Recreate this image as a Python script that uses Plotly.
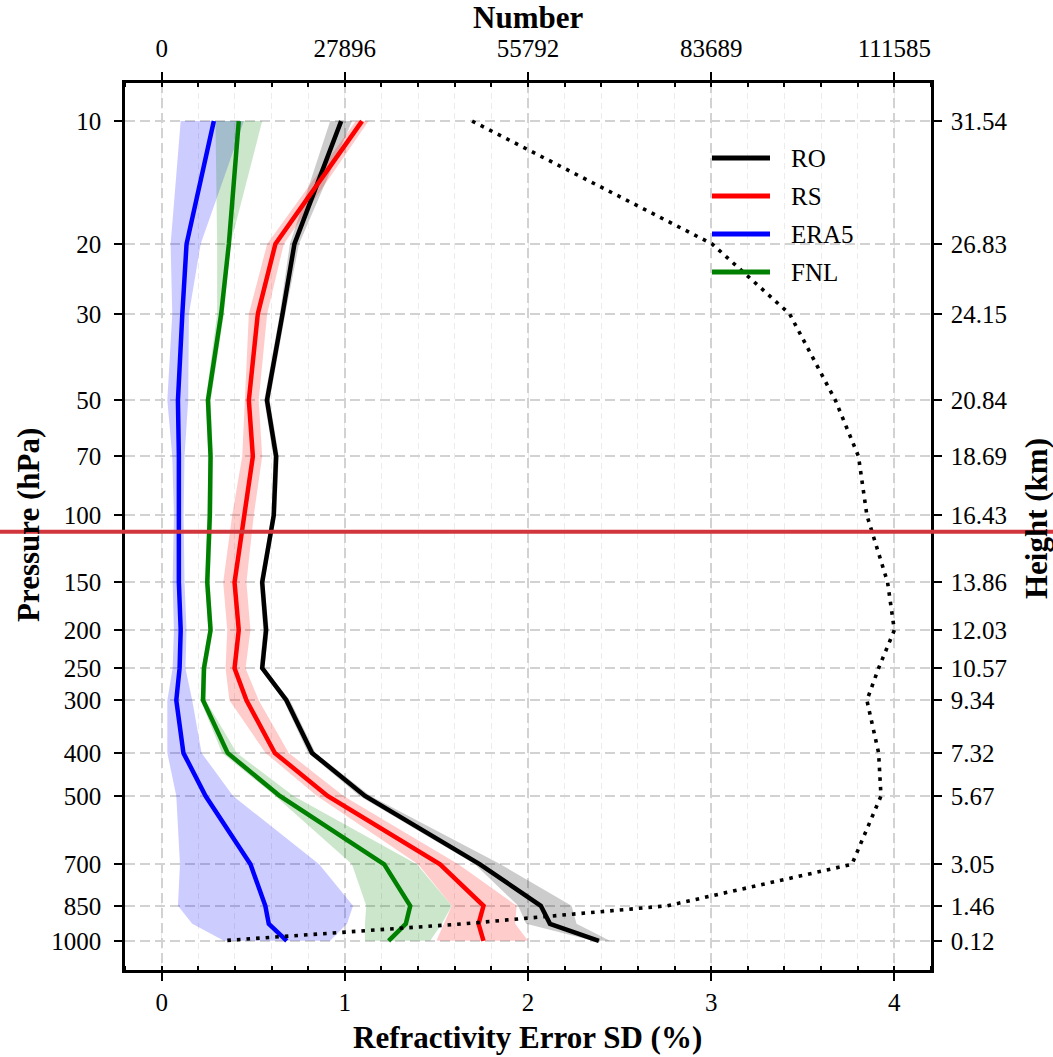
import plotly.graph_objects as go

# ---------------- data ----------------
levels = [10, 20, 30, 50, 70, 100, 150, 200, 250, 300, 400, 500, 700, 850, 925, 1000]
heights = [31.54, 26.83, 24.15, 20.84, 18.69, 16.43, 13.86, 12.03, 10.57, 9.34, 7.32, 5.67, 3.05, 1.46, 0.77, 0.12]

tick_pressure = ["10", "20", "30", "50", "70", "100", "150", "200", "250", "300", "400", "500", "700", "850", "1000"]
tick_height = [31.54, 26.83, 24.15, 20.84, 18.69, 16.43, 13.86, 12.03, 10.57, 9.34, 7.32, 5.67, 3.05, 1.46, 0.12]
tick_height_text = ["31.54", "26.83", "24.15", "20.84", "18.69", "16.43", "13.86", "12.03", "10.57", "9.34",
                    "7.32", "5.67", "3.05", "1.46", "0.12"]

x_ticks = [0, 1, 2, 3, 4]
number_ticks = [0, 27896, 55792, 83689, 111585]

ro_mean = [0.98, 0.725, 0.66, 0.575, 0.625, 0.612, 0.549, 0.57, 0.549, 0.681, 0.821, 1.11, 1.738, 2.07, 2.12, 2.387]
ro_low = [0.92, 0.70, 0.645, 0.56, 0.61, 0.60, 0.535, 0.555, 0.535, 0.665, 0.80, 1.08, 1.71, 1.946, 1.99, 2.355]
ro_high = [1.04, 0.75, 0.675, 0.59, 0.64, 0.625, 0.56, 0.585, 0.56, 0.70, 0.84, 1.14, 1.85, 2.238, 2.265, 2.447]

rs_mean = [1.094, 0.621, 0.525, 0.476, 0.498, 0.452, 0.398, 0.421, 0.398, 0.463, 0.618, 0.906, 1.52, 1.757, 1.73, 1.757]
rs_low = [1.06, 0.576, 0.476, 0.455, 0.44, 0.385, 0.336, 0.358, 0.349, 0.37, 0.567, 0.848, 1.40, 1.584, 1.54, 1.50]
rs_high = [1.13, 0.667, 0.576, 0.53, 0.549, 0.503, 0.463, 0.485, 0.458, 0.53, 0.694, 0.993, 1.62, 1.938, 1.93, 2.0]

era5_mean = [0.285, 0.136, 0.113, 0.089, 0.094, 0.094, 0.094, 0.104, 0.098, 0.08, 0.119, 0.24, 0.485, 0.566, 0.585, 0.683]
era5_low = [0.104, 0.049, 0.058, 0.031, 0.058, 0.067, 0.06, 0.067, 0.06, 0.031, 0.031, 0.08, 0.10, 0.089, 0.167, 0.34]
era5_high = [0.449, 0.213, 0.149, 0.145, 0.125, 0.12, 0.125, 0.136, 0.13, 0.167, 0.218, 0.39, 0.86, 1.045, 1.012, 0.92]

fnl_mean = [0.421, 0.367, 0.325, 0.253, 0.267, 0.263, 0.249, 0.267, 0.231, 0.226, 0.36, 0.645, 1.215, 1.357, 1.333, 1.239]
fnl_low = [0.294, 0.303, 0.303, 0.24, 0.255, 0.25, 0.237, 0.255, 0.219, 0.212, 0.33, 0.62, 1.039, 1.117, 1.11, 1.11]
fnl_high = [0.549, 0.376, 0.34, 0.268, 0.28, 0.277, 0.262, 0.28, 0.245, 0.24, 0.41, 0.72, 1.393, 1.584, 1.53, 1.466]

number = [47284, 83828, 95628, 102600, 106117, 107401, 110553, 111585, 109186, 107401, 109186, 109549, 105113,
          76994, 45945, 9206]

tropopause_height = 15.8

series_names = ["RO", "RS", "ERA5", "FNL"]
series_colors = ["#000000", "#ff0000", "#0000ff", "#008000"]
band_colors = ["rgba(0,0,0,0.2)", "rgba(255,0,0,0.2)", "rgba(0,0,255,0.2)", "rgba(0,128,0,0.2)"]
means = [ro_mean, rs_mean, era5_mean, fnl_mean]
lows = [ro_low, rs_low, era5_low, fnl_low]
highs = [ro_high, rs_high, era5_high, fnl_high]

# ---------------- figure ----------------
FONT = "Liberation Serif, Times New Roman, serif"
W, H = 1053, 1057
ML, MR, MT, MB = 125, 122, 83, 87
PW, PH = W - ML - MR, H - MT - MB

fig = go.Figure()

for lo, hi, bc in zip(lows, highs, band_colors):
    fig.add_trace(go.Scatter(
        x=hi + lo[::-1], y=heights + heights[::-1],
        fill="toself", fillcolor=bc, line=dict(width=0), mode="lines",
        showlegend=False, hoverinfo="skip"))

for name, m, c in zip(series_names, means, series_colors):
    fig.add_trace(go.Scatter(x=m, y=heights, mode="lines", name=name,
                             line=dict(color=c, width=4.5), showlegend=False))

fig.add_trace(go.Scatter(x=number, y=heights, mode="lines", name="Number",
                         line=dict(color="black", width=3.6, dash="3.6px,6px"),
                         xaxis="x2", yaxis="y2", showlegend=False))

scale = number_ticks[-1] / x_ticks[-1]
xr = [-0.2, 4.2]
yr = [-1, 33]

fig.update_layout(
    width=W, height=H,
    margin=dict(l=ML, r=MR, t=MT, b=MB),
    paper_bgcolor="white", plot_bgcolor="white",
    font=dict(family=FONT, size=25, color="black"),
    xaxis=dict(range=xr, tickvals=x_ticks, ticktext=[str(v) for v in x_ticks],
               showline=True, linecolor="black", linewidth=2.5, mirror=False,
               ticks="outside", ticklen=8, tickwidth=2, tickcolor="black",
               ticklabelstandoff=0,
               showgrid=True, gridcolor="#d2d2d2", gridwidth=1.5, griddash="10px,5px",
               zeroline=False,
               minor=dict(dtick=0.2, tick0=0, ticks="inside", ticklen=4, tickwidth=1.5, tickcolor="black",
                          showgrid=True, gridcolor="#ececec", gridwidth=1.2, griddash="6px,4px"),
               tickfont=dict(size=25)),
    xaxis2=dict(range=[xr[0] * scale, xr[1] * scale], tickvals=number_ticks,
                ticktext=[str(v) for v in number_ticks],
                overlaying="x", side="top", anchor="y2",
                showline=True, linecolor="black", linewidth=2.5,
                ticks="outside", ticklen=8, tickwidth=2, tickcolor="black",
                ticklabelstandoff=5,
                showgrid=False, zeroline=False,
                minor=dict(dtick=scale / 5, tick0=0, ticks="inside", ticklen=4, tickwidth=1.5,
                           tickcolor="black", showgrid=False),
                tickfont=dict(size=25)),
    yaxis=dict(range=yr, tickvals=tick_height, ticktext=tick_pressure,
               showline=True, linecolor="black", linewidth=2.5,
               ticks="outside", ticklen=8, tickwidth=2, tickcolor="black",
               ticklabelstandoff=8,
               showgrid=True, gridcolor="#d2d2d2", gridwidth=1.5, griddash="10px,5px",
               zeroline=False, tickfont=dict(size=25)),
    yaxis2=dict(range=yr, tickvals=tick_height, ticktext=tick_height_text,
                overlaying="y", side="right", anchor="x2",
                showline=True, linecolor="black", linewidth=2.5,
                ticks="outside", ticklen=8, tickwidth=2, tickcolor="black",
                ticklabelstandoff=4,
                showgrid=False, zeroline=False, tickfont=dict(size=25)),
)


def px_x(p):
    return (p - ML) / PW


def px_y(p):
    return (H - MB - p) / PH


annotations = [
    dict(text="<b>Refractivity Error SD (%)</b>", x=px_x(527), y=px_y(1037), xref="paper", yref="paper",
         showarrow=False, xanchor="center", yanchor="middle", font=dict(size=31)),
    dict(text="<b>Number</b>", x=px_x(528), y=px_y(18), xref="paper", yref="paper",
         showarrow=False, xanchor="center", yanchor="middle", font=dict(size=31)),
    dict(text="<b>Pressure (hPa)</b>", x=px_x(28), y=px_y(525), xref="paper", yref="paper",
         showarrow=False, xanchor="center", yanchor="middle", textangle=-90, font=dict(size=31)),
    dict(text="<b>Height (km)</b>", x=px_x(1036), y=px_y(519), xref="paper", yref="paper",
         showarrow=False, xanchor="center", yanchor="middle", textangle=-90, font=dict(size=31)),
]

shapes = []
legend_y = [158, 196, 234, 272]
for name, c, ly in zip(series_names, series_colors, legend_y):
    shapes.append(dict(type="line", xref="paper", yref="paper", x0=px_x(712), x1=px_x(770),
                       y0=px_y(ly), y1=px_y(ly), line=dict(color=c, width=5)))
    annotations.append(dict(text=name, x=px_x(789), y=px_y(ly), xref="paper", yref="paper",
                            showarrow=False, xanchor="left", yanchor="middle", font=dict(size=25)))

shapes.append(dict(type="line", xref="paper", yref="y", x0=px_x(0), x1=px_x(W),
                   y0=tropopause_height, y1=tropopause_height, layer="above",
                   line=dict(color="#d1363c", width=4)))

fig.update_layout(annotations=annotations, shapes=shapes)

fig.write_html("out.html")
